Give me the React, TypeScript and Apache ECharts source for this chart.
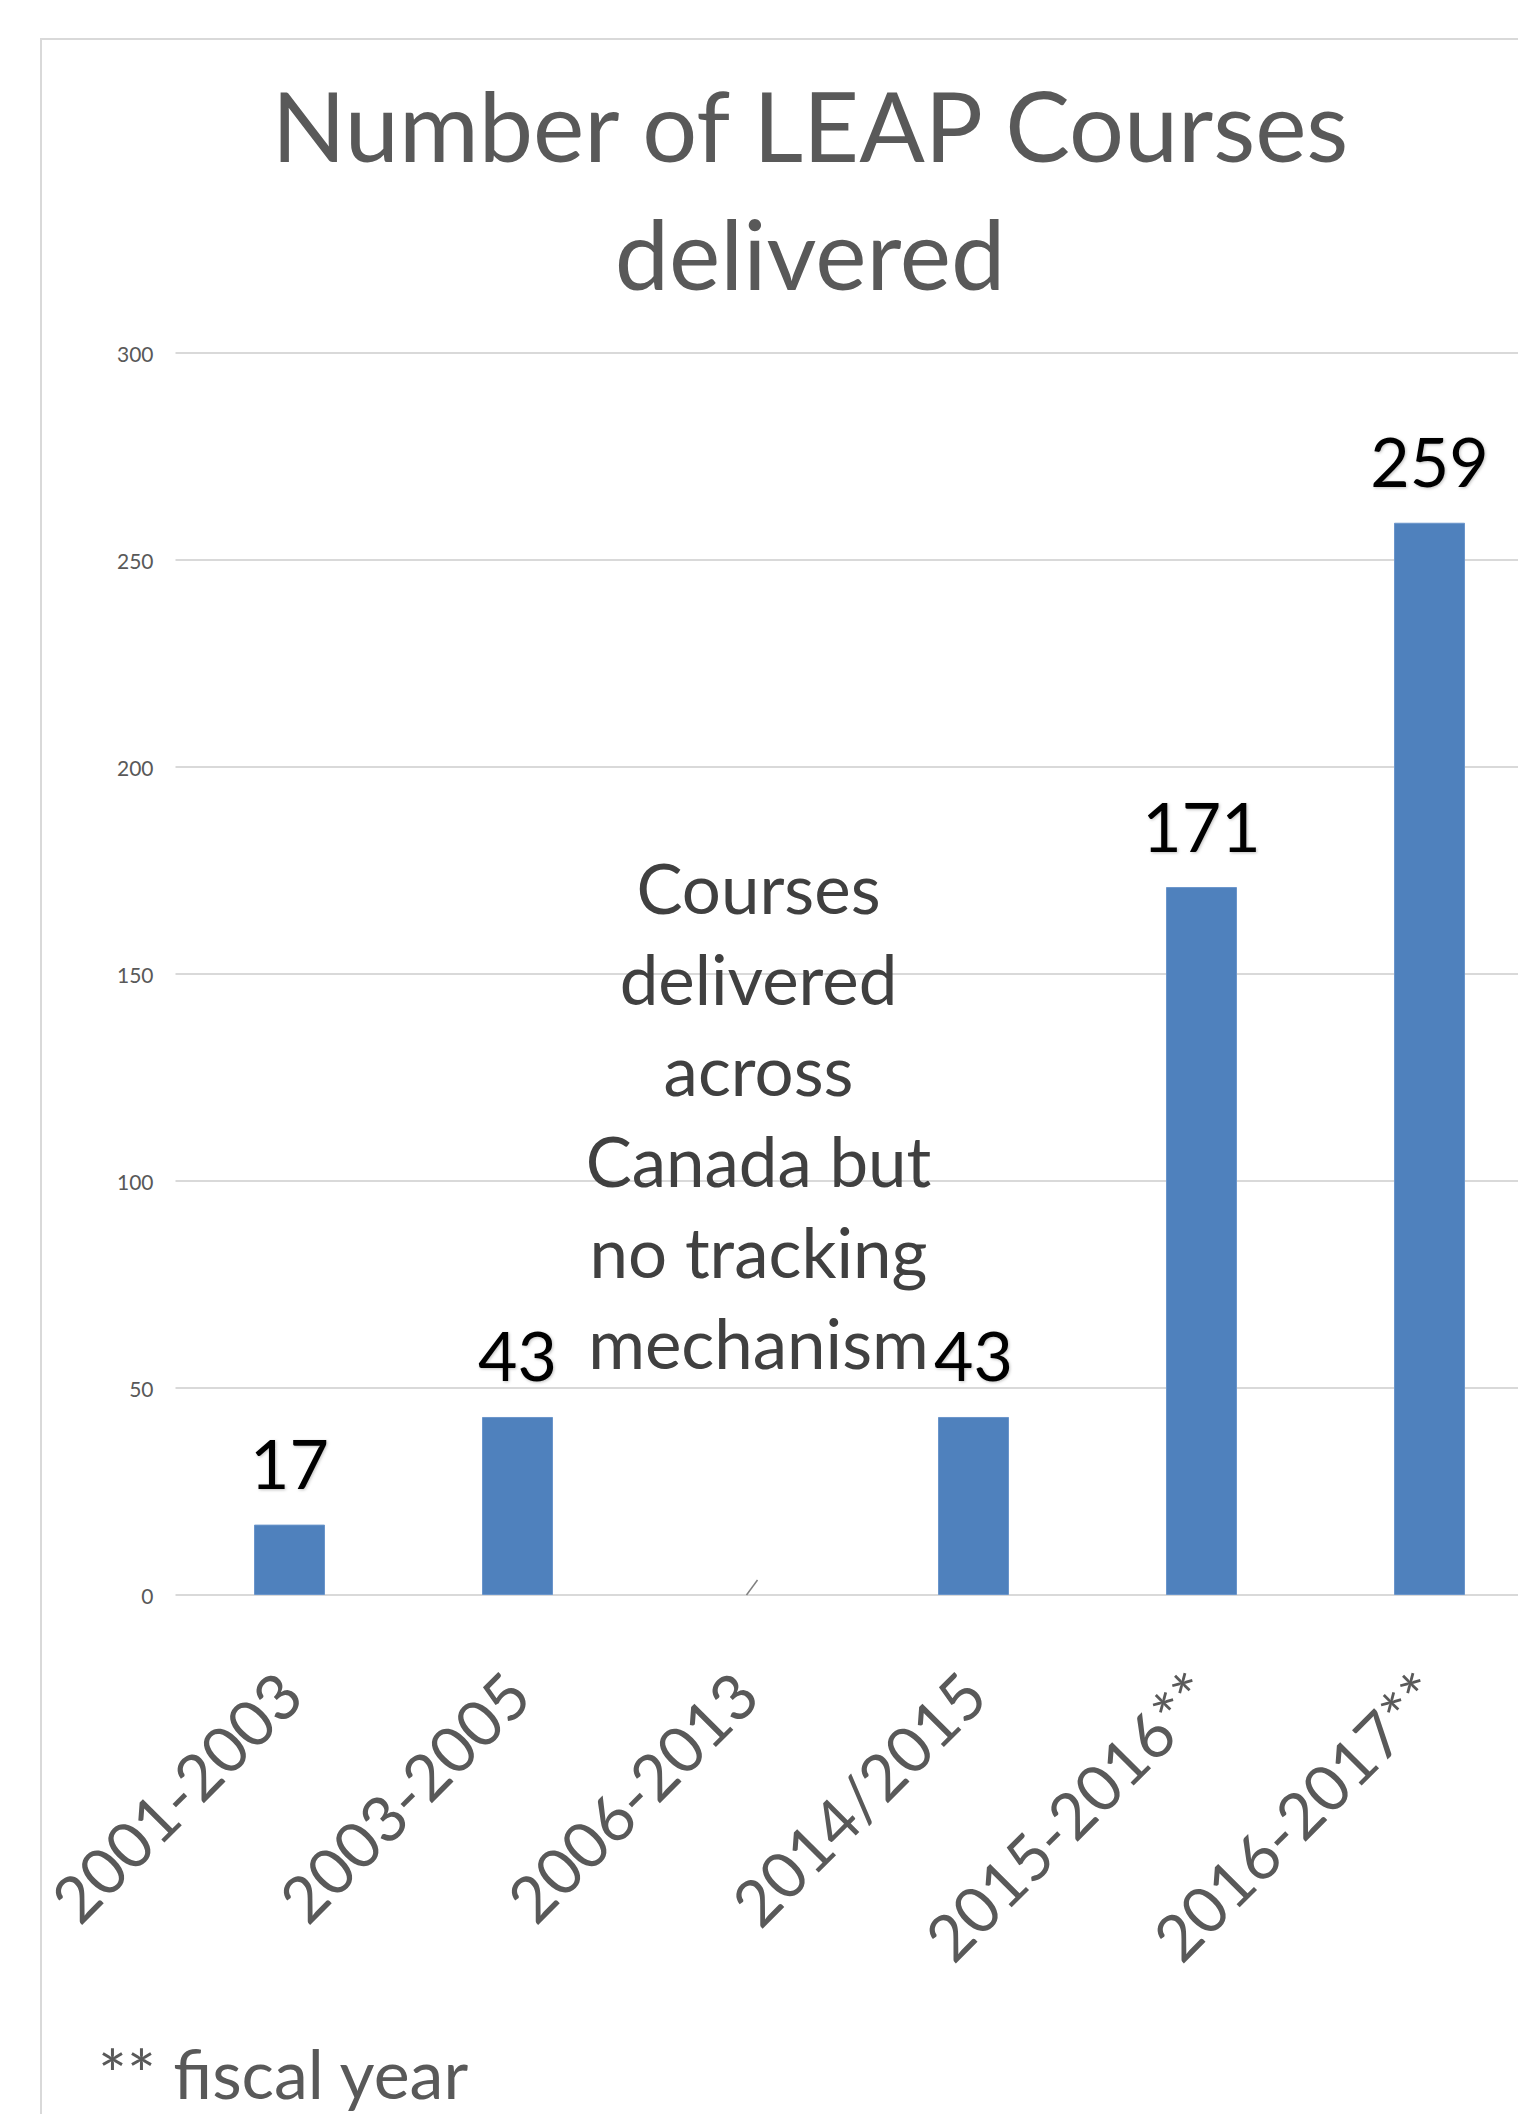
import React, { useEffect, useRef } from "react";
import * as echarts from "echarts";

const categories = ["2001-2003", "2003-2005", "2006-2013", "2014/2015", "2015-2016**", "2016-2017**"];
const courses: (number | null)[] = [17, 43, null, 43, 171, 259];
const yMin = 0;
const yMax = 300;
const yInterval = 50;
const titleLines = ["Number of LEAP Courses", "delivered"];
const noteCategory = "2006-2013";
const noteLines = ["Courses", "delivered", "across", "Canada but", "no tracking", "mechanism"];
const footnote = "** fiscal year";

const FONT = "Lato, 'Open Sans', 'DejaVu Sans', sans-serif";

export default function App() {
  const ref = useRef<HTMLDivElement>(null);
  useEffect(() => {
    if (!ref.current) return;
    const chart = echarts.init(ref.current, null, { renderer: "svg" });
    chart.setOption({
      animation: false,
      backgroundColor: "#ffffff",
      title: {
        text: titleLines.join("\n"),
        left: "center",
        top: 60,
        padding: 0,
        textStyle: {
          fontFamily: FONT,
          fontSize: 97,
          fontWeight: "normal",
          color: "#595959",
          lineHeight: 128,
        },
      },
      grid: { left: 175.5, top: 353, bottom: 519, right: 76.5, containLabel: false },
      xAxis: {
        type: "category",
        data: categories,
        axisLine: { show: false },
        axisTick: { show: false },
        axisLabel: {
          interval: 0,
          rotate: 45,
          margin: 88,
          fontFamily: FONT,
          fontSize: 64,
          color: "#595959",
        },
      },
      yAxis: {
        type: "value",
        min: yMin,
        max: yMax,
        interval: yInterval,
        axisLine: { show: false },
        axisTick: { show: false },
        axisLabel: { margin: 22, fontFamily: FONT, fontSize: 21, color: "#595959" },
        splitLine: { lineStyle: { color: "#d9d9d9", width: 2 } },
      },
      series: [
        {
          type: "bar",
          data: courses,
          barWidth: 71,
          itemStyle: { color: "#4f81bd", borderColor: "#6a95cb", borderWidth: 1 },
          label: {
            show: true,
            position: "top",
            distance: 28,
            fontFamily: FONT,
            fontSize: 68,
            color: "#000000",
            textShadowColor: "rgba(0,0,0,0.25)",
            textShadowBlur: 3,
            textShadowOffsetX: 1,
            textShadowOffsetY: 1,
          },
        },
      ],
    });

    const p = chart.convertToPixel({ xAxisIndex: 0, yAxisIndex: 0 }, [noteCategory, 0]) as number[];
    chart.setOption({
      graphic: [
        {
          type: "rect",
          silent: true,
          z: -1,
          shape: { x: 41, y: 39, width: 1800, height: 2300 },
          style: { fill: "none", stroke: "#d9d9d9", lineWidth: 2 },
        },
        {
          type: "line",
          silent: true,
          shape: { x1: p[0] + 1, y1: p[1], x2: p[0] + 12, y2: p[1] - 15 },
          style: { stroke: "#808080", lineWidth: 1.5 },
        },
        {
          type: "text",
          silent: true,
          x: p[0] + 13,
          y: 842,
          style: {
            text: noteLines.join("\n"),
            fontFamily: FONT,
            fontSize: 69,
            lineHeight: 91,
            fill: "#404040",
            align: "center",
            verticalAlign: "top",
          },
        },
        {
          type: "text",
          silent: true,
          x: 98,
          y: 2072,
          style: {
            text: footnote,
            fontFamily: FONT,
            fontSize: 68,
            fill: "#595959",
            align: "left",
            verticalAlign: "middle",
          },
        },
      ],
    });
    return () => chart.dispose();
  }, []);

  return (
    <div style={{ position: "absolute", left: 0, top: 0, width: 1518, height: 2114, overflow: "hidden", background: "#fff" }}>
      <div ref={ref} style={{ width: 1620, height: 2114 }} />
    </div>
  );
}
